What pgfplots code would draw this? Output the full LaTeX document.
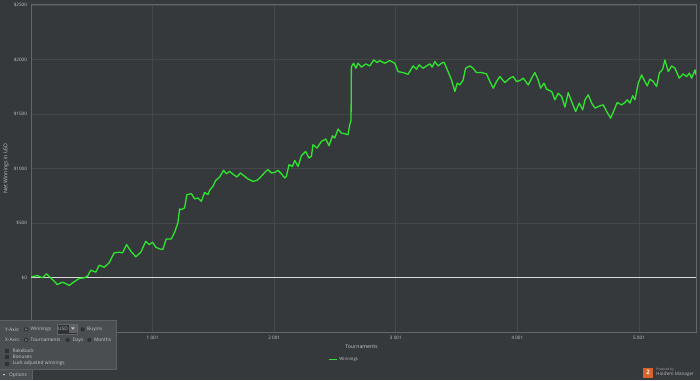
\documentclass[border=0pt]{standalone}
\usepackage{pgfplots}
\pgfplotsset{compat=1.18}
\usepackage{fontspec}
\setmainfont{Open Sans}
\definecolor{bgcol}{HTML}{36393C}
\definecolor{gridcol}{HTML}{45484B}
\definecolor{framecol}{HTML}{63666A}
\definecolor{txtcol}{HTML}{C4C6C8}
\definecolor{linecol}{HTML}{2EE62E}
\definecolor{zerocol}{HTML}{D8D8D8}
\definecolor{panelcol}{HTML}{4B4E51}
\definecolor{panelborder}{HTML}{5E6164}
\definecolor{darkbox}{HTML}{2E3033}
\definecolor{hmorange}{HTML}{D9622B}
\begin{document}
\begin{tikzpicture}
\fill[bgcol] (0pt,0pt) rectangle (700pt,380pt);
\useasboundingbox (0pt,0pt) rectangle (700pt,380pt);
\begin{axis}[
  at={(31pt,48pt)}, anchor=south west,
  scale only axis, width=665pt, height=327pt,
  xmin=1, xmax=5470, ymin=-500, ymax=2500,
  xtick={1001,2001,3001,4001,5001},
  xticklabels={1 001,2 001,3 001,4 001,5 001},
  ytick={0,500,1000,1500,2000,2500},
  yticklabels={\$0,\$500,\$1000,\$1500,\$2000,\$2500},
  major tick length=0pt,
  grid=major,
  major grid style={gridcol, line width=0.7pt},
  axis line style={framecol, line width=1pt},
  tick label style={text=txtcol, font=\fontsize{4.6}{5}\selectfont},
  xticklabel style={yshift=-1pt},
  yticklabel style={xshift=-0.5pt},
  xlabel={Tournaments},
  ylabel={Net Winnings in USD},
  label style={text=txtcol, font=\fontsize{5.2}{6}\selectfont},
  xlabel style={at={(axis description cs:0.497,-0.046)}, anchor=center},
  ylabel style={at={(axis description cs:-0.0376,0.5)}, anchor=center},
  legend style={at={(axis description cs:0.4707,-0.0841)}, anchor=center,
    draw=none, fill=none, text=txtcol, font=\fontsize{4.3}{5}\selectfont,
    legend cell align=left, inner sep=0pt},
  legend image code/.code={\draw[#1] (0pt,0pt) -- (8pt,0pt);},
]
\addplot[zerocol, line width=1.2pt, forget plot] coordinates {(1,0) (5470,0)};
\addplot[linecol, line width=1.3pt, line join=round] coordinates {
(1,6) (54,18) (95,-3) (128,34) (177,-18) (218,-64) (259,-43) (287,-55) (315,-73)
(356,-39) (397,-9) (438,-3) (466,12) (493,67) (534,49) (562,113) (603,94) (644,135)
(685,226) (727,232) (754,226) (787,302) (822,241) (863,190) (904,232) (945,332)
(973,302) (1001,323) (1028,277) (1058,263) (1085,256) (1113,354) (1155,354)
(1182,415) (1209,501) (1223,629) (1237,623) (1264,638) (1283,760) (1320,769)
(1347,721) (1374,730) (1402,699) (1429,781) (1456,760) (1470,799) (1497,836)
(1519,888) (1552,922) (1585,983) (1607,952) (1635,973) (1668,943) (1695,922)
(1723,959) (1758,928) (1785,904) (1826,882) (1859,891) (1882,913) (1931,973)
(1950,989) (1978,959) (2005,964) (2032,983) (2060,952) (2087,913) (2101,928)
(2123,1035) (2151,1019) (2170,1074) (2197,1019) (2225,1117) (2260,1157)
(2287,1096) (2307,1111) (2320,1218) (2353,1188) (2389,1248) (2425,1270)
(2452,1209) (2480,1300) (2499,1279) (2526,1362) (2554,1325) (2581,1319)
(2608,1310) (2622,1401) (2633,1440) (2636,1935) (2655,1966) (2672,1920)
(2691,1966) (2719,1930) (2754,1960) (2787,1941) (2820,1996) (2847,1972)
(2869,1990) (2910,1966) (2951,1990) (2993,1966) (3020,1889) (3061,1880)
(3102,1864) (3143,1941) (3171,1911) (3193,1951) (3226,1920) (3254,1941)
(3281,1960) (3300,1930) (3322,1981) (3349,1941) (3377,1966) (3398,1975)
(3431,1889) (3459,1813) (3487,1706) (3506,1783) (3528,1767) (3555,1813)
(3575,1920) (3610,1941) (3637,1920) (3665,1880) (3706,1880) (3747,1868)
(3775,1798) (3802,1737) (3830,1798) (3857,1843) (3898,1788) (3939,1829)
(3967,1843) (3994,1798) (4022,1807) (4049,1829) (4090,1767) (4118,1829)
(4145,1880) (4172,1813) (4192,1737) (4220,1783) (4241,1728) (4283,1706)
(4310,1630) (4337,1691) (4365,1660) (4392,1563) (4419,1697) (4447,1614)
(4480,1523) (4510,1600) (4538,1538) (4557,1630) (4584,1676) (4612,1600)
(4639,1554) (4680,1575) (4707,1584) (4735,1523) (4768,1462) (4795,1532)
(4822,1605) (4858,1584) (4885,1605) (4905,1630) (4927,1600) (4949,1667)
(4968,1630) (4995,1783) (5023,1859) (5042,1813) (5069,1758) (5091,1820)
(5118,1798) (5146,1752) (5168,1875) (5196,1911) (5214,1996) (5242,1889)
(5270,1941) (5297,1920) (5332,1829) (5365,1868) (5393,1843) (5415,1875)
(5434,1829) (5462,1905) (5470,1859)
};
\addlegendentry{Winnings}
\end{axis}
\begin{scope}[x=1pt,y=1pt, every node/.style={text=txtcol, font=\fontsize{4.8}{5}\selectfont, inner sep=0pt}]
% options panel
\fill[panelcol] (0,11) rectangle (116,59.3);
\draw[panelborder, line width=0.6pt] (0,11) -- (116,11) -- (116,59.3) -- (0,59.3);
\fill[panelcol] (0,0) rectangle (32,10);
\draw[panelborder, line width=0.5pt] (32,0) -- (32,10);
% row 1
\node[anchor=west] at (5,50.7) {Y-Axis:};
\fill[darkbox] (26,50.7) circle (2.1); \fill[txtcol!70!panelcol] (26,50.7) circle (0.9);
\node[anchor=west] at (30.5,50.7) {Winnings};
\fill[darkbox] (56.7,46) rectangle (77.3,56.2);
\draw[framecol, line width=0.4pt] (56.7,46) rectangle (77.3,56.2);
\node[anchor=west] at (58,51) {USD};
\fill[panelborder] (69.3,46.8) rectangle (76.5,55.4);
\fill[txtcol] (71.2,52.6) -- (74.6,52.6) -- (72.9,50.2) -- cycle;
\fill[darkbox] (82.7,50.7) circle (2.1);
\node[anchor=west] at (87,50.7) {Buyins};
% row 2
\node[anchor=west] at (5,40) {X-Axis:};
\fill[darkbox] (26,40) circle (2.1); \fill[txtcol!70!panelcol] (26,40) circle (0.9);
\node[anchor=west] at (30.5,40) {Tournaments};
\fill[darkbox] (67.7,40) circle (2.1);
\node[anchor=west] at (72.3,40) {Days};
\fill[darkbox] (89.3,40) circle (2.1);
\node[anchor=west] at (93.8,40) {Months};
% checkboxes
\fill[darkbox] (5,27.3) rectangle (9,31.3);
\node[anchor=west] at (12.5,29.3) {Rakeback};
\fill[darkbox] (5,21) rectangle (9,25);
\node[anchor=west] at (12.5,23) {Bonuses};
\fill[darkbox] (5,14.3) rectangle (9,18.3);
\node[anchor=west] at (12.5,16.3) {Luck adjusted winnings};
% options tab
\fill[txtcol] (2.8,6) -- (5.2,6) -- (4,4.3) -- cycle;
\node[anchor=west] at (9,5) {Options};
% powered by
\fill[hmorange] (643,2.5) rectangle (653,12.5);
\node[text=white, font=\bfseries\fontsize{6}{6}\selectfont] at (648,7.3) {2};
\node[anchor=west, text=txtcol!80!bgcol, font=\fontsize{3.2}{4}\selectfont] at (656,10.8) {Powered by};
\node[anchor=west, text=txtcol!90!bgcol, font=\fontsize{4.6}{5}\selectfont] at (656,6) {Hold'em Manager};
\end{scope}
\end{tikzpicture}
\end{document}
